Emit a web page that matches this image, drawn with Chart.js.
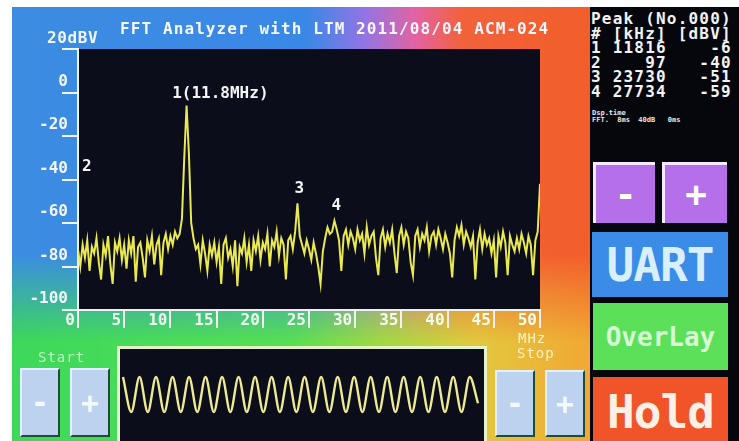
<!DOCTYPE html>
<html>
<head>
<meta charset="utf-8">
<script src="https://cdn.jsdelivr.net/npm/chart.js@4/dist/chart.umd.min.js"></script>
<style>
  html, body { margin: 0; padding: 0; background: #fff; }
  body { width: 739px; height: 441px; position: relative; overflow: hidden;
         font-family: "DejaVu Sans Mono", monospace; font-weight: bold; }
  .abs { position: absolute; }
  #bg { left: 12px; top: 7px; width: 578px; height: 434px;
        background: linear-gradient(to right, #3cd85c 0%, #56e052 48%, #a6d842 65%, #e2c83e 80%, #f2a834 100%); }
  #bg::after { content: ""; position: absolute; left: 0; top: 0; right: 0; bottom: 0;
        background: linear-gradient(to right, #3c8ce2 0%, #3a88e6 51%, #9274e4 61%, #e462a0 70%, #f2623a 78%, #f25e2a 100%);
        -webkit-mask-image: linear-gradient(to bottom, #000 0%, #000 57%, transparent 77%);
        mask-image: linear-gradient(to bottom, #000 0%, #000 57%, transparent 77%); }
  #panel { left: 590px; top: 7px; width: 149px; height: 434px; background: #06070d; }
  #title { left: 120px; top: 21px; font-size: 16px; line-height: 16px; letter-spacing: 1.1px; color: #f6f6ff; white-space: pre; }
  #dbv { left: 47px; top: 30px; font-size: 16px; line-height: 16px; letter-spacing: 0.6px; color: #f0f4ff; }
  #peaks { left: 591px; top: 12px; margin: 0; font: bold 16px/14.6px "DejaVu Sans Mono", monospace;
           letter-spacing: 1.2px; color: #f2f2f2; }
  #tiny { left: 592px; top: 110px; color: #e8e8e8; font-size: 7px; line-height: 7px; white-space: pre; }
  .btn { position: absolute; box-sizing: border-box; display: flex; align-items: center; justify-content: center; }
  .purple { background: #b46fe9; border-top: 3px solid #f4eaff; border-left: 3px solid #f4eaff; color: #fff; font-size: 36px; }
  .big { font-size: 46px; letter-spacing: -1px; }
  .light { background: #bcd2ee; border-right: 2px solid #1d4d33; border-bottom: 2px solid #1d4d33;
           border-top: 2px solid #e4f0ff; border-left: 2px solid #e4f0ff; color: #f4f8ff; font-size: 30px; }
  .lbl { position: absolute; font-size: 14px; line-height: 14px; font-weight: normal; letter-spacing: 1px; }
  #wavebox { left: 117px; top: 346px; width: 370px; height: 100px; box-sizing: border-box;
             border: 3px solid #e6f2c8; background: #0c0d1b; }
</style>
</head>
<body>
<div id="bg" class="abs"></div>
<div id="panel" class="abs"></div>
<canvas id="fft" class="abs" width="590" height="441" style="left:0;top:0"></canvas>
<div id="title" class="abs">FFT Analyzer with LTM 2011/08/04 ACM-024</div>
<div id="dbv" class="abs">20dBV</div>
<pre id="peaks" class="abs"></pre>
<div id="tiny" class="abs">Dsp.time
FFT.  8ms  40dB   0ms</div>

<div class="btn purple" style="left:593px;top:162px;width:62px;height:61px">-</div>
<div class="btn purple" style="left:662px;top:162px;width:65px;height:61px">+</div>
<div class="btn big" style="left:592px;top:232px;width:136px;height:65px;background:#3a8ce6;color:#d8efff">UART</div>
<div class="btn" style="left:593px;top:303px;width:135px;height:67px;background:#5ce05a;color:#d6f8d2;font-size:26px">OverLay</div>
<div class="btn big" style="left:593px;top:377px;width:135px;height:70px;background:#f05428;color:#fff0e6">Hold</div>

<div class="lbl" style="left:38px;top:350px;color:#c0f2c4">Start</div>
<div class="btn light" style="left:20px;top:368px;width:40px;height:69px">-</div>
<div class="btn light" style="left:70px;top:368px;width:40px;height:69px">+</div>
<div class="lbl" style="left:518px;top:331px;color:#fbf2c6">MHz</div>
<div class="lbl" style="left:517px;top:346px;color:#fbf2c6">Stop</div>
<div class="btn light" style="left:495px;top:370px;width:40px;height:67px">-</div>
<div class="btn light" style="left:545px;top:370px;width:40px;height:67px">+</div>

<div id="wavebox" class="abs"></div>
<canvas id="wave" class="abs" width="362" height="88" style="left:120px;top:350px"></canvas>

<script>
// FFT bins, 0.25 MHz apart, 0 .. 50 MHz
const binMHz = 0.25;
const spectrumDbv = [
  -72, -80, -70, -76, -68, -82, -71, -74, -67, -78,
  -86, -70, -75, -66, -79, -88, -69, -73, -67, -77,
  -70, -81, -68, -74, -66, -87, -71, -69, -76, -85,
  -68, -73, -66, -79, -70, -67, -84, -69, -65, -72,
  -66, -70, -64, -67, -65, -58, -30, -6, -28, -60,
  -67, -72, -70, -79, -68, -74, -82, -70, -75, -69,
  -78, -71, -88, -70, -67, -76, -72, -80, -68, -89,
  -71, -74, -67, -78, -70, -82, -68, -73, -66, -77,
  -69, -72, -65, -80, -68, -71, -64, -75, -67, -70,
  -86, -68, -66, -72, -64, -51, -66, -70, -74, -68,
  -72, -77, -69, -74, -80, -88, -73, -67, -62, -65,
  -64, -59, -63, -68, -82, -66, -63, -70, -64, -67,
  -72, -63, -68, -65, -74, -62, -70, -66, -64, -76,
  -84, -67, -63, -71, -65, -69, -63, -74, -83, -66,
  -62, -70, -64, -67, -78, -84, -66, -63, -71, -65,
  -68, -62, -73, -66, -64, -70, -63, -67, -72, -65,
  -69, -74, -85, -68, -62, -66, -61, -70, -64, -67,
  -71, -66, -86, -69, -63, -72, -65, -70, -67, -74,
  -68, -85, -66, -71, -64, -69, -84, -66, -70, -73,
  -67, -72, -65, -69, -74, -66, -70, -84, -68, -64, -42
];

// peak table
const peakNo = [1, 2, 3, 4];
const peakKHz = [11816, 97, 23730, 27734];
const peakDbv = [-6, -40, -51, -59];
const peakTags = ['1(11.8MHz)', '2', '3', '4'];

const xTicks = [0, 5, 10, 15, 20, 25, 30, 35, 40, 45, 50];
const yTicks = [20, 0, -20, -40, -60, -80, -100];

// time domain trace (peaks and troughs)
const timeWave = [1, -1, 1, -1, 1, -1, 1, -1, 1, -1, 1, -1, 1, -1, 1, -1, 1, -1, 1, -1, 1, -1,
                  1, -1, 1, -1, 1, -1, 1, -1, 1, -1, 1, -1, 1, -1, 1, -1, 1, -1, 1, -1, 1, -0.5];

// peak list on the right
const pad = (s, n) => String(s).padStart(n, ' ');
let rows = ['Peak (No.000)', '# [kHz] [dBV]'];
peakNo.forEach((n, i) => rows.push(n + ' ' + pad(peakKHz[i], 5) + ' ' + pad(peakDbv[i], 5)));
document.getElementById('peaks').textContent = rows.join('\n');

const monoFont = { family: 'DejaVu Sans Mono', size: 16, weight: 'bold' };

const plotBack = {
  id: 'plotBack',
  beforeDraw(chart) {
    const a = chart.chartArea, ctx = chart.ctx;
    ctx.save();
    ctx.fillStyle = '#0c0d1b';
    ctx.fillRect(a.left, a.top, a.right - a.left, a.bottom - a.top);
    ctx.restore();
  }
};

// numbers above the peaks
const peakLabels = {
  id: 'peakLabels',
  afterDatasetsDraw(chart) {
    const ctx = chart.ctx, xs = chart.scales.x, ys = chart.scales.y;
    ctx.save();
    ctx.font = 'bold 16px "DejaVu Sans Mono"';
    ctx.fillStyle = '#f4f4f4';
    ctx.textBaseline = 'middle';
    peakTags.forEach((t, i) => {
      const px = xs.getPixelForValue(peakKHz[i] / 1000);
      const py = ys.getPixelForValue(peakDbv[i]);
      if (i === 0) { ctx.textAlign = 'left'; ctx.fillText(t, px - 15, py - 12); }
      else if (i === 1) { ctx.textAlign = 'left'; ctx.fillText(t, px + 3, py - 13); }
      else { ctx.textAlign = 'center'; ctx.fillText(t, px + 2, py - 15); }
    });
    ctx.restore();
  }
};

new Chart(document.getElementById('fft'), {
  type: 'line',
  data: {
    datasets: [{
      data: spectrumDbv.map((v, i) => ({ x: i * binMHz, y: v })),
      borderColor: '#eaea50',
      borderWidth: 2,
      pointRadius: 0,
      tension: 0
    }]
  },
  options: {
    responsive: false,
    devicePixelRatio: 1,
    animation: false,
    layout: { padding: { left: 0, top: 49, right: 50, bottom: 101 } },
    plugins: { legend: { display: false }, tooltip: { enabled: false } },
    scales: {
      x: {
        type: 'linear', min: 0, max: 50,
        afterFit: s => { s.height = 30; },
        afterBuildTicks: s => { s.ticks = xTicks.map(v => ({ value: v })); },
        grid: { drawOnChartArea: false, drawTicks: true, tickLength: 18, color: '#f2f2f2', lineWidth: 2 },
        border: { display: true, color: '#eef2ee', width: 2 },
        ticks: { align: 'end', labelOffset: -3, padding: -17, maxRotation: 0, autoSkip: false,
                 color: '#effff0', font: monoFont }
      },
      y: {
        min: -100, max: 20,
        afterFit: s => { s.width = 78; },
        afterBuildTicks: s => { s.ticks = yTicks.map(v => ({ value: v })); },
        grid: { drawOnChartArea: false, drawTicks: true, tickLength: 16, color: '#f2f2f2', lineWidth: 2 },
        border: { display: true, color: '#f2f2f2', width: 2 },
        ticks: { padding: -6, labelOffset: -11, color: '#f4f6ff', font: monoFont,
                 callback: v => (v === 20 ? '' : String(v)) }
      }
    }
  },
  plugins: [plotBack, peakLabels]
});

new Chart(document.getElementById('wave'), {
  type: 'line',
  data: {
    labels: timeWave.map((_, i) => i),
    datasets: [{
      data: timeWave,
      borderColor: '#eeea90',
      borderWidth: 2.4,
      pointRadius: 0,
      cubicInterpolationMode: 'monotone',
      clip: false
    }]
  },
  options: {
    responsive: false,
    devicePixelRatio: 1,
    animation: false,
    layout: { padding: { left: 3, right: 4, top: 27, bottom: 26 } },
    plugins: { legend: { display: false }, tooltip: { enabled: false } },
    scales: {
      x: { display: false },
      y: { display: false, min: -1, max: 1 }
    }
  }
});
</script>
</body>
</html>
